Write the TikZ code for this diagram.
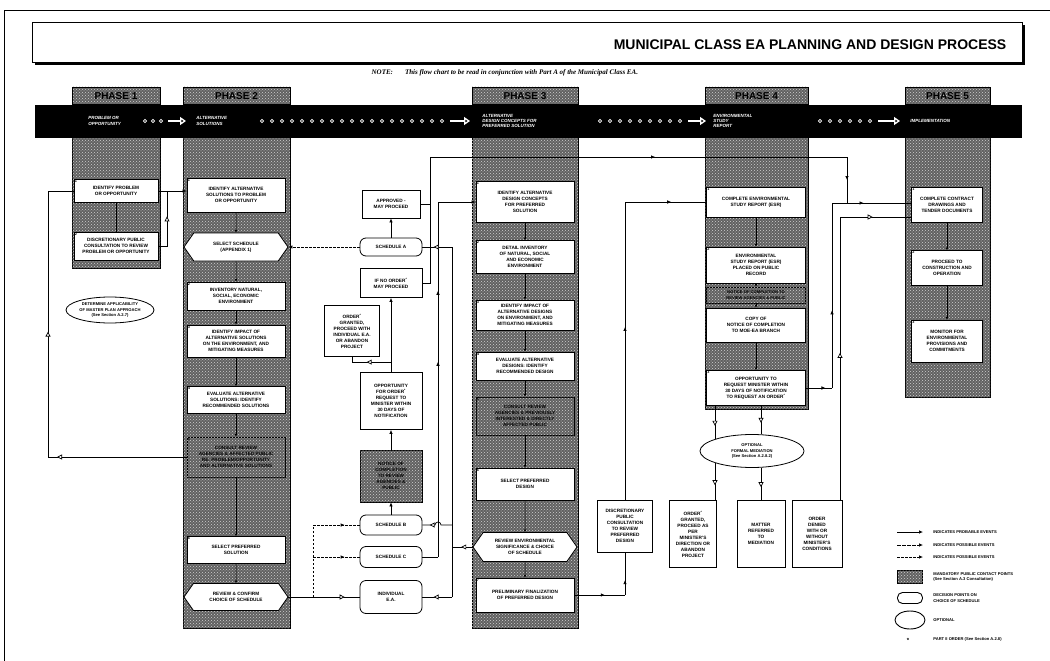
\documentclass[tikz,border=0pt]{standalone}
\usepackage{fontspec}
\setmainfont{Liberation Sans}
\newfontfamily\notefont{Liberation Serif}
\usetikzlibrary{shapes.geometric,shapes.symbols,arrows.meta,patterns,decorations.markings,calc}

\newcommand{\boxfont}{\fontsize{4.7}{6}\selectfont\bfseries}
\newcommand{\smallboxfont}{\fontsize{4.1}{5.2}\selectfont\bfseries}
\newcommand{\numfont}{\fontsize{3.8}{3.8}\selectfont\bfseries}

\tikzset{
  fillhead/.tip={Latex[length=4pt,width=3.5pt]},
  openhead/.tip={Triangle[length=5pt,width=5pt,fill=white]},
  smallhead/.tip={Latex[length=2.5pt,width=2.5pt]}
}

\begin{document}
\begin{tikzpicture}[x=1pt, y=-1pt, line width=0.7pt,
    stipple/.style={fill=black!62, postaction={pattern=crosshatch dots, pattern color=black!18}},
    stepbox/.style={draw, fill=white, line width=0.8pt, align=center, font=\boxfont, inner sep=0.5pt, minimum width=98, minimum height=#1},
    stepbox/.default=28,
    keybox/.style={stepbox=#1, stipple},
    numlbl/.style={font=\numfont, anchor=north west, inner sep=0.8pt},
    stepno/.style={label={[numlbl]north west:#1}},
    hexbox/.style={signal, signal to=west and east, signal pointer angle=110, draw, fill=white, line width=0.8pt, align=center, font=\boxfont, inner sep=0.5pt, minimum width=104, minimum height=#1},
    sched/.style={draw, fill=white, rounded corners=6pt, line width=0.8pt, align=center, font=\boxfont, minimum width=62, minimum height=#1},
    sidebox/.style={draw, fill=white, line width=0.8pt, align=center, font=\boxfont, inner sep=0.5pt, minimum width=#1},
    optional/.style={ellipse, draw, fill=white, line width=0.8pt, align=center, font=\smallboxfont, inner sep=0pt},
    link/.style={-smallhead, line width=0.5pt},
    flow/.style={-fillhead},
    fillmid/.style={postaction={decorate}, decoration={markings, mark=at position #1 with {\arrow{fillhead}}}},
    openmid/.style={postaction={decorate}, decoration={markings, mark=at position #1 with {\arrow{openhead}}}},
    twofill/.style 2 args={postaction={decorate}, decoration={markings, mark=at position #1 with {\arrow{fillhead}}, mark=at position #2 with {\arrow{fillhead}}}},
    schedline/.style={dash pattern=on 2.5pt off 1.5pt},
    bandlabel/.style={text=white, font=\bfseries\itshape\fontsize{4.5}{5.2}\selectfont, align=left, anchor=west, inner sep=0},
    phasehead/.style={font=\bfseries\fontsize{10}{10}\selectfont, inner sep=0},
    legendtext/.style={font=\smallboxfont, align=left, anchor=west, inner sep=0}]
\useasboundingbox (0,0) rectangle (1050,661);

% frame and title
\draw (4,661) -- (4,10) -- (1050,10);
\fill (35,25) rectangle (1025,65);
\draw[fill=white, line width=0.8pt] (32,22) rectangle (1022,62);
\node[anchor=east, font=\bfseries\fontsize{14}{14}\selectfont] (title) at (1010,45) {MUNICIPAL CLASS EA PLANNING AND DESIGN PROCESS};
\node[anchor=west, font=\notefont\bfseries\itshape\fontsize{7}{7}\selectfont] (note) at (368,73) {NOTE:\hspace{12pt}This flow chart to be read in conjunction with Part A of the Municipal Class EA.};

% phase columns
\foreach \n/\xa/\xb/\yb in {1/72/160/268, 2/183/290/628, 3/472/578/628, 4/705/808/409, 5/905/990/397} {
    \draw[stipple, line width=0.5pt] (\xa,87) rectangle (\xb,\yb);
    \draw[line width=0.5pt] (\xa,87) rectangle (\xb,104);
    \node[phasehead] (ph\n) at ({(\xa+\xb)/2},96) {PHASE \n};
}

% black band with phase names
\fill (35,105) rectangle (1022,138);
\node[bandlabel] (bl1) at (88,121) {PROBLEM OR\\OPPORTUNITY};
\node[bandlabel] (bl2) at (196,121) {ALTERNATIVE\\SOLUTIONS};
\node[bandlabel] (bl3) at (482,121) {ALTERNATIVE\\DESIGN CONCEPTS FOR\\PREFERRED SOLUTION};
\node[bandlabel] (bl4) at (713,121) {ENVIRONMENTAL\\STUDY\\REPORT};
\node[bandlabel] (bl5) at (910,121) {IMPLEMENTATION};
\foreach \x in {145,153,161} \draw[white] (\x,121) circle (1.7);
\foreach \x in {262,272,...,442} \draw[white] (\x,121) circle (1.7);
\foreach \x in {600,610,...,680} \draw[white] (\x,121) circle (1.7);
\foreach \x in {820,830,...,870} \draw[white] (\x,121) circle (1.7);
\foreach \xa/\xb in {168/186, 450/470, 688/706, 878/900}
    \draw[white, line width=1.3pt, -{Triangle[open,length=6pt,width=8pt]}] (\xa,121) -- (\xb,121);

% Phase 1
\node[stepbox=23, minimum width=84, stepno=1] (p1a) at (116,191) {IDENTIFY PROBLEM\\OR OPPORTUNITY};
\node[stepbox=28, minimum width=84, stepno=2] (p1b) at (116,246) {DISCRETIONARY PUBLIC\\CONSULTATION TO REVIEW\\PROBLEM OR OPPORTUNITY};
\node[optional, minimum width=88, minimum height=26] (p1e) at (110,310) {DETERMINE APPLICABILITY\\OF MASTER PLAN APPROACH\\(See Section A.2.7)};
\draw[line width=0.5pt] (p1a) -- (p1b);

% Phase 2
\node[stepbox=34, stepno=1] (p2a) at (236,195) {IDENTIFY ALTERNATIVE\\SOLUTIONS TO PROBLEM\\OR OPPORTUNITY};
\node[hexbox=28] (p2s) at (236,247) {SELECT SCHEDULE\\(APPENDIX 1)};
\node[stepbox=28, stepno=2] (p2b) at (236,296) {INVENTORY NATURAL,\\SOCIAL, ECONOMIC\\ENVIRONMENT};
\node[stepbox=32, stepno=3] (p2c) at (236,341) {IDENTIFY IMPACT OF\\ALTERNATIVE SOLUTIONS\\ON THE ENVIRONMENT, AND\\MITIGATING MEASURES};
\node[stepbox=27, stepno=4] (p2d) at (236,400) {EVALUATE ALTERNATIVE\\SOLUTIONS: IDENTIFY\\RECOMMENDED SOLUTIONS};
\node[keybox=40, stepno=5] (p2e) at (236,457) {CONSULT REVIEW\\AGENCIES \& AFFECTED PUBLIC\\RE: PROBLEM/OPPORTUNITY\\AND ALTERNATIVE SOLUTIONS};
\node[stepbox=27, stepno=6] (p2f) at (236,550) {SELECT PREFERRED\\SOLUTION};
\node[hexbox=27] (p2r) at (236,597) {REVIEW \& CONFIRM\\CHOICE OF SCHEDULE};
\foreach \a/\b in {p2a/p2s, p2s/p2b, p2b/p2c, p2c/p2d, p2d/p2e, p2e/p2f, p2f/p2r}
    \draw[link] (\a) -- (\b);

% Phase 1 to Phase 2 and back
\coordinate (j1) at (167,0);
\coordinate (fbl) at (48,0);
\draw[flow] (p1a.east) -- (p1a.east -| p2a.west);
\draw[openmid=0.6] (p1b.east) -| (p1a.east -| j1);
\draw[openmid=0.935] (p2e.west) -- (p2e.west -| fbl);
\draw[openmid=0.43] (p2e.west -| fbl) -- (p1a.west -| fbl) -- (p1a.west);

% schedules between Phase 2 and Phase 3
\node[sidebox=58, minimum height=28] (appr) at (391,204) {APPROVED -\\MAY PROCEED};
\node[sched=18] (schA) at (391,247) {SCHEDULE A};
\node[sidebox=62, minimum height=29] (noord) at (391,283) {IF NO ORDER\textsuperscript{*}\\MAY PROCEED};
\node[sidebox=55, minimum height=51] (ordgr) at (352,331) {ORDER\textsuperscript{*}\\GRANTED,\\PROCEED WITH\\INDIVIDUAL E.A.\\OR ABANDON\\PROJECT};
\node[sidebox=62, minimum height=57] (opp) at (391,401) {OPPORTUNITY\\FOR ORDER\textsuperscript{*}\\REQUEST TO\\MINISTER WITHIN\\30 DAYS OF\\NOTIFICATION};
\node[sidebox=62, minimum height=52, stipple] (notice) at (391,476) {NOTICE OF\\COMPLETION\\TO REVIEW\\AGENCIES \&\\PUBLIC};
\node[sched=20] (schB) at (391,525) {SCHEDULE B};
\node[sched=21] (schC) at (391,557) {SCHEDULE C};
\node[sched=33] (indiv) at (391,597) {INDIVIDUAL\\E.A.};

\coordinate (j2) at (313,0);
\coordinate (tl) at (430,157);
\coordinate (tr) at (847,157);
\draw[schedline, flow] (schA.west) -- (schA.west -| p2s.east);
\draw[flow] (schA) -- (appr);
\draw (appr.east) -- (appr.east -| tl);
\draw (noord.east) -| (tl);
\draw[fillmid=0.54] (tl) -- (tr);
\draw[flow] (opp) -- (noord);
\draw[openmid=0.55] ([yshift=10pt]opp.north) -| (ordgr.south);
\draw[flow] (notice) -- (opp);
\draw[flow] (schB) -- (notice);
\draw[openmid=0.79] (p2r.east) -- (indiv.west);
\draw[schedline] (p2r.east -| j2) -- (schB.west -| j2);
\draw[schedline, fillmid=0.68] (schB.west -| j2) -- (schB.west);
\draw[schedline, fillmid=0.68] (schC.west -| j2) -- (schC.west);

% Phase 3
\node[stepbox=41, stepno=1] (p3a) at (525,202) {IDENTIFY ALTERNATIVE\\DESIGN CONCEPTS\\FOR PREFERRED\\SOLUTION};
\node[stepbox=33, stepno=2] (p3b) at (525,257) {DETAIL INVENTORY\\OF NATURAL, SOCIAL\\AND ECONOMIC\\ENVIRONMENT};
\node[stepbox=30, stepno=3] (p3c) at (525,315) {IDENTIFY IMPACT OF\\ALTERNATIVE DESIGNS\\ON ENVIRONMENT, AND\\MITIGATING MEASURES};
\node[stepbox=28, stepno=4] (p3d) at (525,366) {EVALUATE ALTERNATIVE\\DESIGNS: IDENTIFY\\RECOMMENDED DESIGN};
\node[keybox=38, stepno=5] (p3e) at (525,416) {CONSULT REVIEW\\AGENCIES \& PREVIOUSLY\\INTERESTED \& DIRECTLY\\AFFECTED PUBLIC};
\node[stepbox=32, stepno=6] (p3f) at (525,484) {SELECT PREFERRED\\DESIGN};
\node[hexbox=29] (p3r) at (525,547) {REVIEW ENVIRONMENTAL\\SIGNIFICANCE \& CHOICE\\OF SCHEDULE};
\node[stepbox=34, stepno=7] (p3g) at (525,595) {PRELIMINARY FINALIZATION\\OF PREFERRED DESIGN};
\foreach \a/\b in {p3a/p3b, p3b/p3c, p3c/p3d, p3d/p3e, p3e/p3f, p3f/p3r, p3r/p3g}
    \draw[link] (\a) -- (\b);

% Schedule C into Phase 3, choice of schedule back out
\coordinate (sc) at (438,0);
\coordinate (rv) at (452,0);
\draw (schC.east) -- (schC.east -| sc);
\draw[twofill={0.55}{0.75}] (schC.east -| sc) -- (p3a.west -| sc);
\draw[flow] (p3a.west -| sc) -- (p3a.west);
\draw[openmid=0.55] (p3r.west) -- (p3r.west -| rv);
\draw (schA.east -| rv) -- (indiv.east -| rv);
\draw[openmid=0.62] (schA.east -| rv) -- (schA.east);
\draw[openmid=0.78] (schB.east -| rv) -- ($(schB.east -| sc)+(3,0)$) arc[start angle=0, end angle=-180, radius=3] -- (schB.east);
\draw[openmid=0.62] (indiv.east -| rv) -- (indiv.east);

% Phase 3 to Phase 4
\node[sidebox=55, minimum height=52] (disc) at (625,526) {DISCRETIONARY\\PUBLIC\\CONSULTATION\\TO REVIEW\\PREFERRED\\DESIGN};
\coordinate (dv) at (625,0);
\draw[fillmid=0.6] (p3g.east) -- (p3g.east -| dv);
\draw[fillmid=0.35] (p3g.east -| dv) -- (disc.south);

% Phase 4
\node[stepbox=30, minimum width=99, stepno=1] (p4a) at (756,202) {COMPLETE ENVIRONMENTAL\\STUDY REPORT (ESR)};
\node[stepbox=36, minimum width=99, stepno=2] (p4b) at (756,265) {ENVIRONMENTAL\\STUDY REPORT (ESR)\\PLACED ON PUBLIC\\RECORD};
\node[keybox=16, minimum width=99, font=\smallboxfont] (p4n) at (756,295) {NOTICE OF COMPLETION TO\\REVIEW AGENCIES \& PUBLIC};
\node[stepbox=34, minimum width=99] (p4c) at (756,325) {COPY OF\\NOTICE OF COMPLETION\\TO MOE-EA BRANCH};
\node[stepbox=35, minimum width=99, stepno=3] (p4d) at (756,388) {OPPORTUNITY TO\\REQUEST MINISTER WITHIN\\30 DAYS OF NOTIFICATION\\TO REQUEST AN ORDER\textsuperscript{*}};
\draw[fillmid=0.58] (disc.north) -- (p4a.west -| dv);
\draw[fillmid=0.57] (p4a.west -| dv) -- (p4a.west);
\foreach \a/\b in {p4a/p4b, p4b/p4n, p4n/p4c, p4c/p4d}
    \draw[link] (\a) -- (\b);

\node[optional, minimum width=104, minimum height=33] (med) at (752,451) {OPTIONAL\\FORMAL MEDIATION\\(See Section A.2.8.2)};
\node[sidebox=47, minimum height=67] (ordg4) at (693,534) {ORDER\textsuperscript{*}\\GRANTED,\\PROCEED AS\\PER\\MINISTER'S\\DIRECTION OR\\ABANDON\\PROJECT};
\node[sidebox=48, minimum height=67] (matter) at (761,534) {MATTER\\REFERRED\\TO\\MEDIATION};
\node[sidebox=50, minimum height=67] (deny) at (817,534) {ORDER\\DENIED\\WITH OR\\WITHOUT\\MINISTER'S\\CONDITIONS};
\draw[openmid=0.6] (med.north west |- p4d.south) -- (med.north west);
\draw[openmid=0.6] (med.south west) -- (med.south west |- ordg4.north);
\draw[openmid=0.6] (matter.north |- p4d.south) -- (matter.north |- med.north);
\draw[openmid=0.6] (matter.north |- med.south) -- (matter.north);

% Phase 5
\node[stepbox=35, minimum width=71, stepno=1] (p5a) at (947,205) {COMPLETE CONTRACT\\DRAWINGS AND\\TENDER DOCUMENTS};
\node[stepbox=35, minimum width=71, stepno=2] (p5b) at (947,268) {PROCEED TO\\CONSTRUCTION AND\\OPERATION};
\node[stepbox=42, minimum width=71, stepno=3] (p5c) at (947,341) {MONITOR FOR\\ENVIRONMENTAL\\PROVISIONS AND\\COMMITMENTS};
\foreach \a/\b in {p5a/p5b, p5b/p5c}
    \draw[link] (\a) -- (\b);

% Phase 4 to Phase 5
\coordinate (pl) at (832,0);
\coordinate (dl) at (840,0);
\coordinate (p5hi) at ([yshift=2pt]p5a.west);
\coordinate (p5lo) at ([yshift=-12pt]p5a.west);
\draw[fillmid=0.5] (tr) -- (tr |- p5hi);
\draw[fillmid=0.75] (p4d.east) -- (p4d.east -| pl);
\draw[fillmid=0.42] (p4d.east -| pl) -- (p5hi -| pl);
\draw[fillmid=0.4] (p5hi -| pl) -- (p5hi);
\draw[openmid=0.52] (deny.north -| dl) -- (p5lo -| dl);
\draw[openmid=0.46] (p5lo -| dl) -- (p5lo);

% legend
\draw[flow] (897,532) -- (923,532);
\node[legendtext] (lg1) at (933,532) {INDICATES PROBABLE EVENTS};
\draw[flow, dash pattern=on 4pt off 1pt] (897,545) -- (923,545);
\node[legendtext] (lg2) at (933,545) {INDICATES POSSIBLE EVENTS};
\draw[flow, schedline] (897,557) -- (923,557);
\node[legendtext] (lg3) at (933,557) {INDICATES POSSIBLE EVENTS};
\node[draw, stipple, minimum width=25, minimum height=13] (lgk) at (910,577) {};
\node[legendtext] (lg4) at (933,577) {MANDATORY PUBLIC CONTACT POINTS\\(See Section A.3 Consultation)};
\node[draw, rounded corners=5pt, line width=0.9pt, minimum width=25, minimum height=11] (lgs) at (910,598) {};
\node[legendtext] (lg5) at (933,598) {DECISION POINTS ON\\CHOICE OF SCHEDULE};
\node[ellipse, draw, line width=0.9pt, minimum width=30, minimum height=18] (lgo) at (910,620) {};
\node[legendtext] (lg6) at (933,620) {OPTIONAL};
\node[font=\bfseries\fontsize{6}{6}\selectfont] (lgst) at (908,640) {*};
\node[legendtext] (lg7) at (933,639) {PART II ORDER (See Section A.2.8)};
\end{tikzpicture}
\end{document}
